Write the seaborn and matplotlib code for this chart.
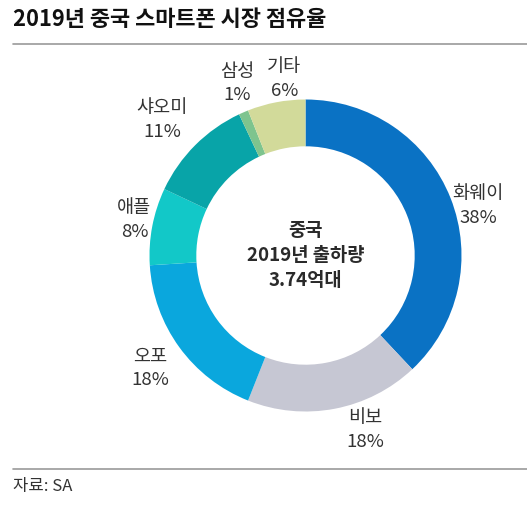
import matplotlib
matplotlib.use('Agg')
import matplotlib.pyplot as plt
import seaborn as sns
import numpy as np

# data
brands = ['화웨이', '비보', '오포', '애플', '샤오미', '삼성', '기타']
shares = [38, 18, 18, 8, 11, 1, 6]
colors = ['#0A72C4', '#C6C7D3', '#0AA7DD', '#12C8C8', '#08A4A8', '#7EC48E', '#D2DA9A']
label_dist = [1.15, 1.18, 1.23, 1.12, 1.265, 1.185, 1.14]
label_nudge = [-5.6, 8.0, 0.0, -0.9, 1.6, -1.8, -4.0]  # degrees from wedge middle

sns.set_theme(style='white')
plt.rcParams['font.family'] = ['Noto Sans CJK KR', 'DejaVu Sans']

W, H = 527, 508
fig = plt.figure(figsize=(W / 100, H / 100), dpi=100)
fig.patch.set_facecolor('white')

# donut: centre and outer radius in px
cx, cy, R = 305.5, 255.5, 156
ax = fig.add_axes([(cx - R) / W, (H - cy - R) / H, 2 * R / W, 2 * R / H])
wedges, _ = ax.pie(shares, colors=colors, startangle=90, counterclock=False,
                   radius=1.0, wedgeprops=dict(width=0.30, linewidth=0))
ax.set_xlim(-1, 1)
ax.set_ylim(-1, 1)
ax.set_aspect('equal')
ax.axis('off')

for w, name, val, d, nd in zip(wedges, brands, shares, label_dist, label_nudge):
    ang = np.deg2rad((w.theta1 + w.theta2) / 2 + nd)
    x, y = d * np.cos(ang), d * np.sin(ang)
    ax.text(x, y, f'{name}\n{val}%', ha='center', va='center', fontsize=13.4,
            color='#333333', linespacing=1.4, clip_on=False)

ax.text(0, 0, '중국\n2019년 출하량\n3.74억대', ha='center', va='center',
        fontsize=13.5, fontweight='bold', color='#2a2a2a', linespacing=1.4)

# title and rules
fig.text(13 / W, 1 - 19 / H, '2019년 중국 스마트폰 시장 점유율', fontsize=15.8,
         fontweight='bold', color='#111111', va='center', ha='left')
fig.add_artist(plt.Line2D([13 / W, 1], [1 - 44 / H, 1 - 44 / H], color='#9a9a9a', lw=1.2))
fig.add_artist(plt.Line2D([13 / W, 1], [1 - 469 / H, 1 - 469 / H], color='#9a9a9a', lw=1.2))
fig.text(13 / W, 1 - 487 / H, '자료: SA', fontsize=12, color='#333333', va='center', ha='left')

fig.savefig('out.png', dpi=100, facecolor='white')
